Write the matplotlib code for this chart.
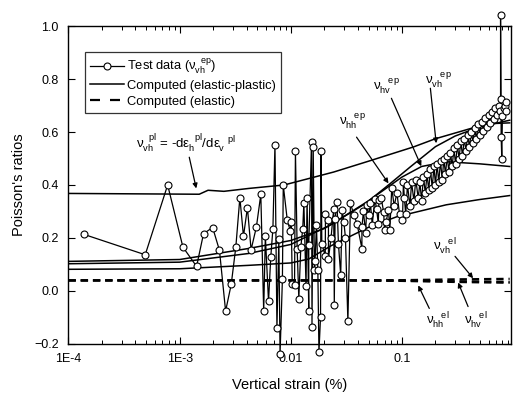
import matplotlib
matplotlib.use("Agg")
import matplotlib.pyplot as plt
from matplotlib.lines import Line2D

plt.rcParams["font.family"] = ["Liberation Sans", "DejaVu Sans"]
plt.rcParams["mathtext.fontset"] = "custom"
plt.rcParams["mathtext.rm"] = "Liberation Sans"
plt.rcParams["mathtext.it"] = "Liberation Sans"
plt.rcParams["mathtext.bf"] = "Liberation Sans:bold"

# ---- test data (nu_vh^ep), in test order ----
test_x = [1.38e-4, 4.9e-4, 7.8e-4, 1.07e-3, 1.42e-3, 1.64e-3, 1.98e-3, 2.28e-3,
          2.59e-3, 2.91e-3, 3.2e-3, 3.48e-3, 3.75e-3, 4.07e-3, 4.39e-3, 4.9e-3,
          5.37e-3, 5.7e-3, 5.9e-3, 6.3e-3, 6.6e-3, 6.9e-3, 7.2e-3, 7.5e-3,
          7.8e-3, 8.0e-3, 8.4e-3, 8.55e-3, 9.3e-3, 9.9e-3, 0.0101, 0.0103,
          0.0108, 0.011, 0.0114, 0.0118, 0.0123, 0.0128, 0.0131, 0.0137,
          0.014, 0.0145, 0.0145, 0.01535, 0.0155, 0.0159, 0.0163, 0.0165,
          0.017, 0.0175, 0.0179, 0.0185, 0.0187, 0.019, 0.0204, 0.0205,
          0.0218, 0.0218, 0.023, 0.0243, 0.0246, 0.025, 0.026, 0.0268,
          0.0281, 0.0289, 0.030, 0.031, 0.0326, 0.0344, 0.0369, 0.0394,
          0.0436, 0.0436, 0.045, 0.047, 0.0484, 0.0503, 0.052, 0.054,
          0.057, 0.059, 0.0612, 0.062, 0.065, 0.0684, 0.0696, 0.072,
          0.0756, 0.0777, 0.0809, 0.085, 0.09, 0.095, 0.101, 0.103,
          0.105, 0.108, 0.112, 0.118, 0.122, 0.128, 0.133, 0.14, 0.145,
          0.15, 0.156, 0.162, 0.168, 0.174, 0.18, 0.187, 0.194, 0.2,
          0.207, 0.214, 0.222, 0.23, 0.238, 0.246, 0.255, 0.264, 0.273,
          0.283, 0.293, 0.303, 0.315, 0.326, 0.338, 0.35, 0.363, 0.376,
          0.39, 0.404, 0.42, 0.435, 0.45, 0.467, 0.485, 0.5, 0.52, 0.54,
          0.56, 0.58, 0.6, 0.62, 0.645, 0.67, 0.69, 0.715, 0.74, 0.76,
          0.77, 0.77, 0.78, 0.79, 0.8, 0.82, 0.84, 0.861, 0.87]
test_y = [0.213, 0.136, 0.40, 0.165, 0.092, 0.216, 0.239, 0.153,
          -0.077, 0.024, 0.165, 0.352, 0.206, 0.314, 0.155, 0.241,
          0.364, -0.078, 0.206, -0.04, 0.127, 0.235, 0.553, -0.142,
          0.194, -0.239, 0.043, 0.399, 0.266, 0.226, 0.26, 0.026,
          0.023, 0.528, 0.159, -0.03, 0.165, 0.235, 0.332, 0.017,
          0.351, -0.075, 0.174, 0.563, -0.138, 0.542, 0.077, 0.111,
          0.247, 0.077, -0.233, -0.1, 0.529, 0.178, 0.131, 0.29,
          0.269, 0.121, 0.20, 0.31, -0.053, 0.27, 0.336, 0.178,
          0.058, 0.307, 0.26, 0.20, -0.116, 0.332, 0.285, 0.254,
          0.159, 0.241, 0.30, 0.22, 0.323, 0.285, 0.33, 0.25,
          0.348, 0.31, 0.254, 0.342, 0.35, 0.298, 0.228, 0.26,
          0.307, 0.228, 0.39, 0.32, 0.37, 0.29, 0.266, 0.411,
          0.35, 0.29, 0.40, 0.32, 0.41, 0.34, 0.42, 0.35, 0.41,
          0.34, 0.43, 0.37, 0.44, 0.38, 0.46, 0.39, 0.47, 0.40,
          0.48, 0.41, 0.49, 0.42, 0.50, 0.44, 0.51, 0.45, 0.52,
          0.47, 0.54, 0.48, 0.55, 0.50, 0.565, 0.51, 0.575, 0.53,
          0.59, 0.545, 0.60, 0.56, 0.615, 0.575, 0.63, 0.59, 0.64, 0.605,
          0.655, 0.62, 0.665, 0.635, 0.675, 0.65, 0.69, 0.665, 0.70, 0.68,
          0.727, 1.043, 0.58, 0.50, 0.66, 0.69, 0.70, 0.714, 0.68]

# ---- computed (elastic-plastic) ----
pl_x = [1e-4, 1.5e-3, 1.8e-3, 2.5e-3, 4.2e-3, 8.7e-3, 0.0243, 0.05, 0.127, 0.2, 0.45, 0.62, 0.93]
pl_y = [0.368, 0.365, 0.38, 0.376, 0.387, 0.40, 0.449, 0.49, 0.544, 0.575, 0.618, 0.632, 0.635]
vh_ep_x = [1e-4, 1e-3, 4.2e-3, 0.01, 0.02, 0.047, 0.0756, 0.12, 0.2, 0.3, 0.5, 0.93]
vh_ep_y = [0.111, 0.118, 0.16, 0.19, 0.235, 0.33, 0.40, 0.47, 0.545, 0.585, 0.62, 0.645]
hv_ep_x = [1e-4, 1e-3, 4.2e-3, 0.01, 0.023, 0.05, 0.1, 0.15, 0.25, 0.5, 0.93]
hv_ep_y = [0.102, 0.108, 0.141, 0.175, 0.25, 0.34, 0.43, 0.47, 0.488, 0.48, 0.47]
hh_ep_x = [1e-4, 1e-3, 4.2e-3, 0.01, 0.0145, 0.023, 0.05, 0.09, 0.25, 0.5, 0.93]
hh_ep_y = [0.081, 0.083, 0.096, 0.105, 0.12, 0.17, 0.24, 0.28, 0.325, 0.345, 0.36]

# ---- computed (elastic) ----
el_x = [1e-4, 0.03, 0.1, 0.3, 0.93]
vh_el = [0.039, 0.039, 0.040, 0.043, 0.045]
hv_el = [0.039, 0.039, 0.038, 0.036, 0.034]
hh_el = [0.039, 0.039, 0.037, 0.033, 0.030]

fig = plt.figure(figsize=(5.13, 3.94), dpi=100)
ax = fig.add_axes([0.1335, 0.128, 0.862, 0.805])

k = "black"
ax.plot(test_x, test_y, "-o", color=k, lw=0.9, ms=5, mfc="white", mec=k, mew=0.8,
        clip_on=False, zorder=3)
ax.plot(pl_x, pl_y, "-", color=k, lw=1.1)
for xs, ys in [(vh_ep_x, vh_ep_y), (hv_ep_x, hv_ep_y), (hh_ep_x, hh_ep_y)]:
    ax.plot(xs, ys, "-", color=k, lw=1.1)
for ys in (hh_el, hv_el, vh_el):
    ax.plot(el_x, ys, "--", color=k, lw=1.6, dashes=(3.3, 2.2))

ax.set_xscale("log")
ax.set_xlim(1e-4, 0.95)
ax.set_ylim(-0.2, 1.0)
ax.set_xticks([1e-4, 1e-3, 1e-2, 0.1])
ax.set_xticklabels(["1E-4", "1E-3", "0.01", "0.1"])
ax.set_yticks([-0.2, 0.0, 0.2, 0.4, 0.6, 0.8, 1.0])
ax.tick_params(which="both", direction="in", top=True, right=True, labelsize=9)
ax.tick_params(which="major", length=5, width=0.8, pad=7)
ax.tick_params(which="minor", length=3, width=0.7)
for s in ax.spines.values():
    s.set_linewidth(1.0)
ax.set_xlabel("Vertical strain (%)", fontsize=10.5, labelpad=9)
ax.set_ylabel("Poisson's ratios", fontsize=10.5, labelpad=6)

handles = [
    Line2D([], [], color=k, lw=0.9, marker="o", ms=5, mfc="white", mec=k, mew=0.8),
    Line2D([], [], color=k, lw=1.1),
    Line2D([], [], color=k, lw=1.6, ls="--", dashes=(4.5, 4.5)),
]
labels = [r"Test data ($\nu_{vh}^{\ \ ep}$)", "Computed (elastic-plastic)", "Computed (elastic)"]
leg = ax.legend(handles, labels, loc="upper left", bbox_to_anchor=(0.037, 0.92),
                borderaxespad=0, fontsize=9.3, frameon=True, fancybox=False,
                edgecolor=k, handlelength=2.6, handletextpad=0.25,
                labelspacing=0.3, borderpad=0.4)
leg.get_frame().set_linewidth(0.9)

arrow = dict(arrowstyle="-|>", color=k, lw=0.9, mutation_scale=7, shrinkA=0, shrinkB=0)
fs = 9.5
ax.text(1.15e-3, 0.558,
        r"$\nu_{vh}^{\ \ pl}$ = -d$\varepsilon_{h}^{\ \ pl}$/d$\varepsilon_{v}^{\ \ \ pl}$",
        fontsize=fs, ha="center", va="center")
ax.annotate("", xy=(1.41e-3, 0.387), xytext=(1.22e-3, 0.505), arrowprops=arrow)

ax.text(0.212, 0.797, r"$\nu_{vh}^{\ \ \ ep}$", fontsize=fs, ha="center", va="center")
ax.annotate("", xy=(0.203, 0.558), xytext=(0.18, 0.766), arrowprops=arrow)
ax.text(0.0724, 0.774, r"$\nu_{hv}^{\ \ \ ep}$", fontsize=fs, ha="center", va="center")
ax.annotate("", xy=(0.149, 0.471), xytext=(0.0803, 0.728), arrowprops=arrow)
ax.text(0.036, 0.641, r"$\nu_{hh}^{\ \ \ ep}$", fontsize=fs, ha="center", va="center")
ax.annotate("", xy=(0.0756, 0.406), xytext=(0.039, 0.581), arrowprops=arrow)

ax.text(0.245, 0.164, r"$\nu_{vh}^{\ \ \ el}$", fontsize=fs, ha="center", va="center")
ax.annotate("", xy=(0.436, 0.047), xytext=(0.30, 0.13), arrowprops=arrow)
ax.text(0.212, -0.113, r"$\nu_{hh}^{\ \ \ el}$", fontsize=fs, ha="center", va="center")
ax.annotate("", xy=(0.14, 0.02), xytext=(0.176, -0.067), arrowprops=arrow)
ax.text(0.46, -0.113, r"$\nu_{hv}^{\ \ \ el}$", fontsize=fs, ha="center", va="center")
ax.annotate("", xy=(0.32, 0.031), xytext=(0.393, -0.06), arrowprops=arrow)

fig.savefig("out.png", dpi=100)
